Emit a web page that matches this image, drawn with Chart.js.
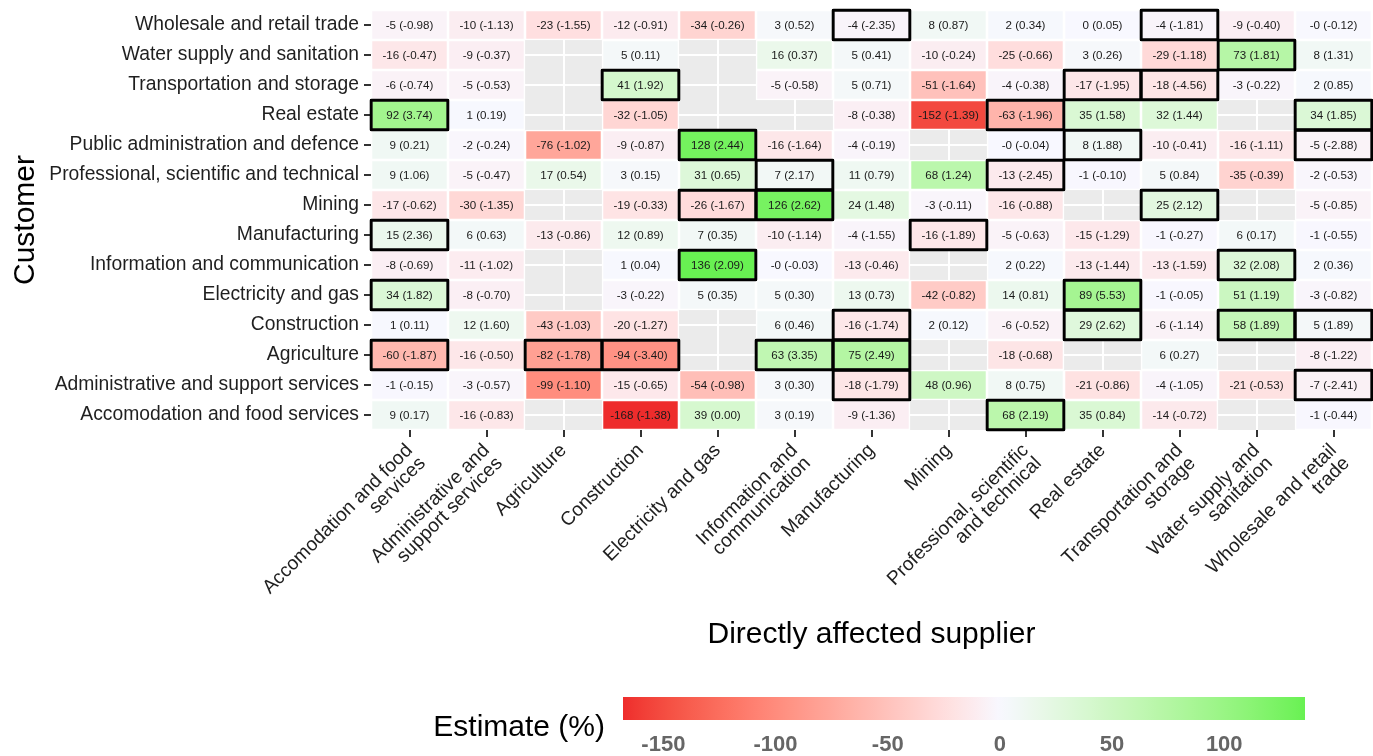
<!DOCTYPE html>
<html>
<head>
<meta charset="utf-8">
<title>Customer / supplier estimates</title>
<script src="https://cdn.jsdelivr.net/npm/chart.js@4.4.0/dist/chart.umd.min.js"></script>
<style>
  html, body { margin: 0; padding: 0; background: #fff; }
  #wrap { position: relative; width: 1373px; height: 756px; overflow: hidden; }
  #heat { position: absolute; left: 0; top: 0; }
  #scaleBar { position: absolute; left: 0; top: 680px; }
</style>
</head>
<body>
<div id="wrap">
  <canvas id="heat" width="1373" height="756"></canvas>
  <canvas id="scaleBar" width="1373" height="76"></canvas>
</div>
<script>
const FONT = '"Liberation Sans", Arial, Helvetica, sans-serif';
Chart.defaults.font.family = FONT;

// x categories (directly affected supplier)
const suppliers = [
  "Accomodation and food services", "Administrative and support services", "Agriculture",
  "Construction", "Electricity and gas", "Information and communication", "Manufacturing",
  "Mining", "Professional, scientific and technical", "Real estate",
  "Transportation and storage", "Water supply and sanitation", "Wholesale and retail trade"
];
// how the supplier names are broken on the axis
const supplierTicks = [
  ["Accomodation and food", "services"], ["Administrative and", "support services"], "Agriculture",
  "Construction", "Electricity and gas", ["Information and", "communication"], "Manufacturing",
  "Mining", ["Professional, scientific", "and technical"], "Real estate",
  ["Transportation and", "storage"], ["Water supply and", "sanitation"], ["Wholesale and retail", "trade"]
];

// y categories (customer), bottom row first
const customers = [
  "Accomodation and food services", "Administrative and support services", "Agriculture",
  "Construction", "Electricity and gas", "Information and communication", "Manufacturing",
  "Mining", "Professional, scientific and technical", "Public administration and defence",
  "Real estate", "Transportation and storage", "Water supply and sanitation", "Wholesale and retail trade"
];

// estimate (%) per customer row, same order as customers; null = no estimate
const estimates = [
  [9, -16, null, -168, 39, 3, -9, null, 68, 35, -14, null, -1],
  [-1, -3, -99, -15, -54, 3, -18, 48, 8, -21, -4, -21, -7],
  [-60, -16, -82, -94, null, 63, 75, null, -18, null, 6, null, -8],
  [1, 12, -43, -20, null, 6, -16, 2, -6, 29, -6, 58, 5],
  [34, -8, null, -3, 5, 5, 13, -42, 14, 89, -1, 51, -3],
  [-8, -11, null, 1, 136, -0.2, -13, null, 2, -13, -13, 32, 2],
  [15, 6, -13, 12, 7, -10, -4, -16, -5, -15, -1, 6, -1],
  [-17, -30, null, -19, -26, 126, 24, -3, -16, null, 25, null, -5],
  [9, -5, 17, 3, 31, 7, 11, 68, -13, -1, 5, -35, -2],
  [9, -2, -76, -9, 128, -16, -4, null, -0.3, 8, -10, -16, -5],
  [92, 1, null, -32, null, null, -8, -152, -63, 35, 32, null, 34],
  [-6, -5, null, 41, null, -5, 5, -51, -4, -17, -18, -3, 2],
  [-16, -9, null, 5, null, 16, 5, -10, -25, 3, -29, 73, 8],
  [-5, -10, -23, -12, -34, 3, -4, 8, 2, 0.2, -4, -9, -0.4]
];

// t statistics shown in brackets
const tStats = [
  [0.17, -0.83, null, -1.38, 0.00, 0.19, -1.36, null, 2.19, 0.84, -0.72, null, -0.44],
  [-0.15, -0.57, -1.10, -0.65, -0.98, 0.30, -1.79, 0.96, 0.75, -0.86, -1.05, -0.53, -2.41],
  [-1.87, -0.50, -1.78, -3.40, null, 3.35, 2.49, null, -0.68, null, 0.27, null, -1.22],
  [0.11, 1.60, -1.03, -1.27, null, 0.46, -1.74, 0.12, -0.52, 2.62, -1.14, 1.89, 1.89],
  [1.82, -0.70, null, -0.22, 0.35, 0.30, 0.73, -0.82, 0.81, 5.53, -0.05, 1.19, -0.82],
  [-0.69, -1.02, null, 0.04, 2.09, -0.03, -0.46, null, 0.22, -1.44, -1.59, 2.08, 0.36],
  [2.36, 0.63, -0.86, 0.89, 0.35, -1.14, -1.55, -1.89, -0.63, -1.29, -0.27, 0.17, -0.55],
  [-0.62, -1.35, null, -0.33, -1.67, 2.62, 1.48, -0.11, -0.88, null, 2.12, null, -0.85],
  [1.06, -0.47, 0.54, 0.15, 0.65, 2.17, 0.79, 1.24, -2.45, -0.10, 0.84, -0.39, -0.53],
  [0.21, -0.24, -1.02, -0.87, 2.44, -1.64, -0.19, null, -0.04, 1.88, -0.41, -1.11, -2.88],
  [3.74, 0.19, null, -1.05, null, null, -0.38, -1.39, -1.96, 1.58, 1.44, null, 1.85],
  [-0.74, -0.53, null, 1.92, null, -0.58, 0.71, -1.64, -0.38, -1.95, -4.56, -0.22, 0.85],
  [-0.47, -0.37, null, 0.11, null, 0.37, 0.41, -0.24, -0.66, 0.26, -1.18, 1.81, 1.31],
  [-0.98, -1.13, -1.55, -0.91, -0.26, 0.52, -2.35, 0.87, 0.34, 0.05, -1.81, -0.40, -0.12]
];

const legendTicks = [-150, -100, -50, 0, 50, 100];
const SIG = 1.645; // cells with |t| above this get a black frame

// ---- colour scale: low / mid / high blended in Lab space ----
const WHITE = [0.95047, 1, 1.08883];
const toLin = c => { c /= 255; return c <= 0.04045 ? c / 12.92 : Math.pow((c + 0.055) / 1.055, 2.4); };
const fromLin = c => {
  const v = c <= 0.0031308 ? 12.92 * c : 1.055 * Math.pow(c, 1 / 2.4) - 0.055;
  return Math.round(Math.min(1, Math.max(0, v)) * 255);
};
function hexToLab(hex) {
  const n = parseInt(hex.slice(1), 16);
  const r = toLin(n >> 16 & 255), g = toLin(n >> 8 & 255), b = toLin(n & 255);
  const x = (0.4124564 * r + 0.3575761 * g + 0.1804375 * b) / WHITE[0];
  const y = (0.2126729 * r + 0.7151522 * g + 0.0721750 * b) / WHITE[1];
  const z = (0.0193339 * r + 0.1191920 * g + 0.9503041 * b) / WHITE[2];
  const f = t => t > 216 / 24389 ? Math.cbrt(t) : (24389 / 27 * t + 16) / 116;
  return [116 * f(y) - 16, 500 * (f(x) - f(y)), 200 * (f(y) - f(z))];
}
function labToCss([L, a, b]) {
  const fy = (L + 16) / 116, fx = fy + a / 500, fz = fy - b / 200;
  const inv = t => t * t * t > 216 / 24389 ? t * t * t : (116 * t - 16) / (24389 / 27);
  const x = inv(fx) * WHITE[0], y = inv(fy) * WHITE[1], z = inv(fz) * WHITE[2];
  const r = 3.2404542 * x - 1.5371385 * y - 0.4985314 * z;
  const g = -0.9692660 * x + 1.8760108 * y + 0.0415560 * z;
  const bl = 0.0556434 * x - 0.2040259 * y + 1.0572252 * z;
  return `rgb(${fromLin(r)},${fromLin(g)},${fromLin(bl)})`;
}
const stops = ["#EE2C2C", "#F8F8FF", "#00EE00"].map(hexToLab);

const allEst = estimates.flat().filter(v => v !== null);
const estMin = Math.min(...allEst);
const estMax = Math.max(...allEst);
const maxAbs = Math.max(Math.abs(estMin), Math.abs(estMax));

function fillFor(v) {
  const s = Math.min(1, Math.max(0, v / maxAbs / 2 + 0.5));
  const [p, q, u] = s < 0.5 ? [stops[0], stops[1], s / 0.5] : [stops[1], stops[2], (s - 0.5) / 0.5];
  return labToCss(p.map((c, i) => c + (q[i] - c) * u));
}

function fmtEst(v) {
  const r = Math.round(v);
  return (v < 0 && r === 0) ? "-0" : String(r);
}

// ---- bar data: one floating bar per cell ----
const tileData = [];
const boxData = [];
customers.forEach((c, r) => {
  suppliers.forEach((s, k) => {
    const v = estimates[r][k];
    if (v === null) return;
    const row = r + 1;
    tileData.push({ x: s, y: [row - 0.5, row + 0.5], est: v, t: tStats[r][k] });
    if (Math.abs(tStats[r][k]) > SIG) boxData.push({ x: s, y: [row - 0.55, row + 0.55] });
  });
});

const panelBg = {
  id: 'panelBg',
  beforeDraw(chart) {
    const { ctx, chartArea: a } = chart;
    ctx.save();
    ctx.fillStyle = '#EBEBEB';
    ctx.fillRect(a.left, a.top, a.width, a.height);
    ctx.restore();
  }
};

const cellText = {
  id: 'cellText',
  afterDatasetsDraw(chart) {
    const ctx = chart.ctx;
    const meta = chart.getDatasetMeta(1);
    ctx.save();
    ctx.font = '11.6px ' + FONT;
    ctx.fillStyle = '#1a1a1a';
    ctx.textAlign = 'center';
    ctx.textBaseline = 'middle';
    meta.data.forEach((el, i) => {
      const d = tileData[i];
      const { x, y, base } = el.getProps(['x', 'y', 'base'], true);
      ctx.fillText(`${fmtEst(d.est)} (${d.t.toFixed(2)})`, x, (y + base) / 2 + 0.5);
    });
    ctx.restore();
  }
};

const axisGrid = { color: '#fff', lineWidth: 2, tickColor: '#333', tickLength: 7, tickWidth: 2 };

new Chart(document.getElementById('heat'), {
  type: 'bar',
  data: {
    labels: suppliers,
    datasets: [
      {
        label: 'significant',
        data: boxData,
        order: 1,
        grouped: false,
        backgroundColor: 'rgba(0,0,0,0)',
        borderColor: '#000',
        borderWidth: 3.2,
        borderSkipped: false,
        borderRadius: 2,
        barPercentage: 1.04,
        categoryPercentage: 1,
        clip: false
      },
      {
        label: 'Estimate (%)',
        data: tileData,
        order: 2,
        grouped: false,
        backgroundColor: ctx => ctx.raw ? fillFor(ctx.raw.est) : '#fff',
        borderColor: '#fff',
        borderWidth: 1.6,
        borderSkipped: false,
        barPercentage: 1,
        categoryPercentage: 1
      }
    ]
  },
  options: {
    responsive: false,
    animation: false,
    layout: { padding: { top: 10, right: 1, left: 0, bottom: 0 } },
    plugins: { legend: { display: false }, tooltip: { enabled: false } },
    scales: {
      x: {
        type: 'category',
        offset: true,
        border: { display: false },
        grid: Object.assign({ offset: false }, axisGrid),
        ticks: {
          autoSkip: false, minRotation: 45, maxRotation: 45, padding: 4,
          color: '#1f1f1f', font: { size: 19.3, lineHeight: 0.95 },
          callback: (v, i) => supplierTicks[i]
        },
        title: {
          display: true, text: 'Directly affected supplier', color: '#000',
          font: { size: 30 }, padding: { top: 0, bottom: 103 }
        },
        afterFit: s => { s.height = 326; s.paddingLeft = 0; s.paddingRight = 0; }
      },
      y: {
        type: 'linear',
        min: 0.5,
        max: 14.5,
        border: { display: false },
        grid: axisGrid,
        afterBuildTicks: s => { s.ticks = customers.map((c, i) => ({ value: i + 1 })); },
        ticks: {
          padding: 5, color: '#1f1f1f', font: { size: 19.3 },
          callback: v => customers[v - 1]
        },
        title: {
          display: true, text: 'Customer', color: '#000',
          font: { size: 30 }, padding: { top: 8, bottom: 0 }
        },
        afterFit: s => { s.width = 371; s.paddingTop = 0; s.paddingBottom = 0; }
      }
    }
  },
  plugins: [panelBg, cellText]
});

// ---- colour bar ----
function barGradient(chart) {
  const a = chart.chartArea;
  if (!a) return null;
  const g = chart.ctx.createLinearGradient(a.left, 0, a.right, 0);
  const n = 60;
  for (let i = 0; i <= n; i++) {
    const v = estMin + (estMax - estMin) * i / n;
    g.addColorStop(i / n, fillFor(v));
  }
  return g;
}

const legendTitle = {
  id: 'legendTitle',
  afterDraw(chart) {
    const ctx = chart.ctx;
    ctx.save();
    ctx.font = '30px ' + FONT;
    ctx.fillStyle = '#000';
    ctx.textAlign = 'right';
    ctx.textBaseline = 'middle';
    ctx.fillText('Estimate (%)', chart.chartArea.left - 18, 48);
    ctx.restore();
  }
};

new Chart(document.getElementById('scaleBar'), {
  type: 'bar',
  data: {
    labels: [''],
    datasets: [{
      data: [[estMin, estMax]],
      backgroundColor: ctx => barGradient(ctx.chart),
      borderWidth: 0,
      barPercentage: 1,
      categoryPercentage: 1
    }]
  },
  options: {
    indexAxis: 'y',
    responsive: false,
    animation: false,
    layout: { padding: { left: 623, right: 68, top: 17, bottom: 0 } },
    plugins: { legend: { display: false }, tooltip: { enabled: false } },
    scales: {
      x: {
        type: 'linear',
        min: estMin,
        max: estMax,
        z: 1,
        border: { display: false },
        grid: { color: 'rgba(255,255,255,0.55)', lineWidth: 1, drawTicks: false },
        afterBuildTicks: s => { s.ticks = legendTicks.map(v => ({ value: v })); },
        ticks: { padding: 12, color: '#666', font: { size: 22, weight: 'bold' } },
        afterFit: s => { s.height = 36; s.paddingLeft = 0; s.paddingRight = 0; }
      },
      y: { display: false }
    }
  },
  plugins: [legendTitle]
});
</script>
</body>
</html>
